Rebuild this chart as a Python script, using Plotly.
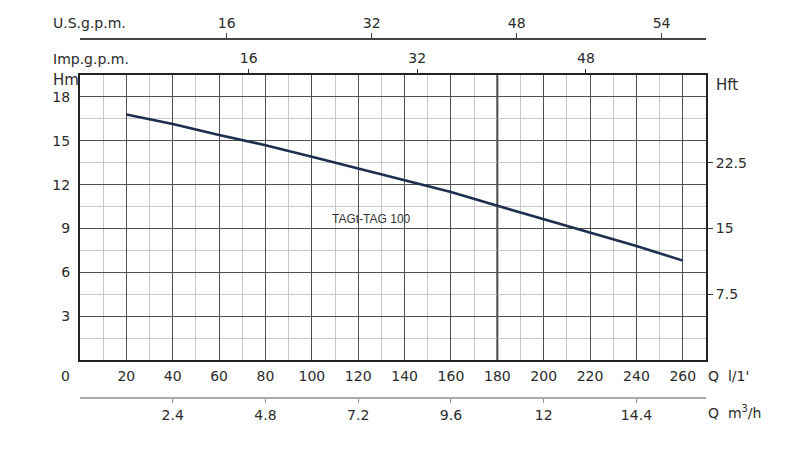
import plotly.graph_objects as go

# pump curve TAGt-TAG 100
flow_lmin = [20, 40, 60, 80, 100, 120, 140, 160, 180, 200, 220, 240, 260]
head_m = [16.8, 16.15, 15.4, 14.7, 13.9, 13.1, 12.35, 11.5, 10.55, 9.65, 8.75, 7.8, 6.8]

q_ticks = [20, 40, 60, 80, 100, 120, 140, 160, 180, 200, 220, 240, 260]
hm_ticks = [3, 6, 9, 12, 15, 18]
hft_ticks = [7.5, 15, 22.5]
imp_ticks = [16, 32, 48]
us_ticks = [16, 32, 48, 64]
us_labels = ["16", "32", "48", "54"]
m3h_ticks = [2.4, 4.8, 7.2, 9.6, 12, 14.4]
m3h_labels = ["2.4", "4.8", "7.2", "9.6", "12", "14.4"]
curve_name = "TAGt-TAG 100"
thick_q = 180

W, H = 800, 453
OFF = 8  # page body margin, figure starts at (8, 8) on screen
PLOT_L, PLOT_R, PLOT_TOP, PLOT_BOT = 80, 706, 75, 360
BOTTOM_AXIS = 398
ML = PLOT_L - OFF
MR = W - (PLOT_R - OFF)
MT = 22
MB = H - (BOTTOM_AXIS - OFF)
paper_h = H - MT - MB
paper_w = W - ML - MR


def px(x):
    # screen pixel -> paper x
    return (x - OFF - ML) / paper_w


def py(y):
    # screen pixel -> paper y
    return (H - MB - (y - OFF)) / paper_h


FONT = "DejaVu Sans"
TXT = "#2b2b2b"
MAJOR = "#505050"
MINOR = "#c8c8c8"

fig = go.Figure()
fig.add_trace(go.Scatter(x=flow_lmin, y=head_m, mode="lines",
                         line=dict(color="#1d2f4f", width=2.6),
                         hoverinfo="skip", showlegend=False))
# invisible copies so the secondary scales get drawn
fig.add_trace(go.Scatter(x=[q / 4.546 for q in flow_lmin], y=head_m, xaxis="x2",
                         mode="lines", opacity=0, hoverinfo="skip", showlegend=False))
fig.add_trace(go.Scatter(x=[q / 3.785 for q in flow_lmin], y=head_m, xaxis="x3",
                         mode="lines", opacity=0, hoverinfo="skip", showlegend=False))
fig.add_trace(go.Scatter(x=[q * 0.06 for q in flow_lmin], y=head_m, xaxis="x4",
                         mode="lines", opacity=0, hoverinfo="skip", showlegend=False))
fig.add_trace(go.Scatter(x=flow_lmin, y=[h * 1.667 for h in head_m], yaxis="y2",
                         mode="lines", opacity=0, hoverinfo="skip", showlegend=False))

fig.add_vline(x=thick_q, line=dict(color="#404040", width=2), layer="below")

ydom = [py(PLOT_BOT), py(PLOT_TOP)]
tick_font = dict(family=FONT, size=14, color=TXT)

fig.update_layout(
    template="none",
    width=W, height=H,
    margin=dict(l=ML, r=MR, t=MT, b=MB, autoexpand=False),
    paper_bgcolor="white", plot_bgcolor="white",
    font=tick_font,
    xaxis=dict(range=[0, 270], tickmode="array", tickvals=q_ticks,
               showgrid=True, gridcolor=MAJOR, gridwidth=1,
               minor=dict(tickmode="linear", tick0=0, dtick=10, showgrid=True,
                          gridcolor=MINOR, gridwidth=1),
               showline=True, linecolor="#222", linewidth=2, mirror=True,
               ticks="", ticklabelstandoff=2, zeroline=False, tickfont=tick_font,
               automargin=False),
    yaxis=dict(domain=ydom, range=[0, 19.5], tickmode="array", tickvals=hm_ticks,
               showgrid=True, gridcolor=MAJOR, gridwidth=1,
               minor=dict(tickmode="linear", tick0=0, dtick=1.5, showgrid=True,
                          gridcolor=MINOR, gridwidth=1),
               showline=True, linecolor="#222", linewidth=2, mirror=True,
               ticks="", ticklabelstandoff=5, zeroline=False, tickfont=tick_font,
               automargin=False),
    yaxis2=dict(overlaying="y", side="right", anchor="x", range=[0, 32.5],
                tickmode="array", tickvals=hft_ticks, showgrid=False,
                ticks="outside", ticklen=6, tickcolor="#333", zeroline=False,
                tickfont=tick_font, automargin=False),
    xaxis2=dict(overlaying="x", side="top", anchor="y", range=[0, 270 / 4.546],
                tickmode="array", tickvals=imp_ticks, showgrid=False,
                ticks="outside", ticklen=5, tickcolor="#333", zeroline=False,
                tickfont=tick_font, automargin=False),
    xaxis3=dict(overlaying="x", side="top", anchor="free", position=py(39),
                range=[-0.2, 68.9], tickmode="array", tickvals=us_ticks,
                ticktext=us_labels, showgrid=False, showline=True,
                linecolor="#444", linewidth=1.5,
                ticks="outside", ticklen=5, tickcolor="#444", zeroline=False,
                tickfont=tick_font, automargin=False),
    xaxis4=dict(overlaying="x", side="bottom", anchor="free", position=py(BOTTOM_AXIS),
                range=[0, 270 * 0.06], tickmode="array", tickvals=m3h_ticks,
                ticktext=m3h_labels, showgrid=False, showline=True,
                linecolor="#aaaaaa", linewidth=1.5,
                ticks="outside", ticklen=4, tickcolor="#888", zeroline=False,
                tickfont=tick_font, automargin=False),
)

ann = dict(showarrow=False, font=tick_font, xref="paper", yref="paper")
fig.add_annotation(text="0", x=px(65), y=py(376), xanchor="center", yanchor="middle", **ann)
fig.add_annotation(text="Q  l/1'", x=px(706), y=py(376), xanchor="left", yanchor="middle", **ann)
fig.add_annotation(text="Q  m<sup>3</sup>/h", x=px(706), y=py(412), xanchor="left", yanchor="middle", **ann)
fig.add_annotation(text="Hm", x=px(51), y=py(80), xanchor="left", yanchor="middle",
                   showarrow=False, xref="paper", yref="paper",
                   font=dict(family=FONT, size=15, color=TXT))
fig.add_annotation(text="Hft", x=px(714), y=py(85), xanchor="left", yanchor="middle",
                   showarrow=False, xref="paper", yref="paper",
                   font=dict(family=FONT, size=15, color=TXT))
fig.add_annotation(text="U.S.g.p.m.", x=px(51), y=py(23), xanchor="left", yanchor="middle", **ann)
fig.add_annotation(text="Imp.g.p.m.", x=px(51), y=py(59), xanchor="left", yanchor="middle", **ann)
fig.add_annotation(text=curve_name, x=125.6, y=9.68, xref="x", yref="y",
                   showarrow=False, xanchor="center", yanchor="middle",
                   font=dict(family="Liberation Sans", size=12, color="#333"))

fig.write_html("out.html")
